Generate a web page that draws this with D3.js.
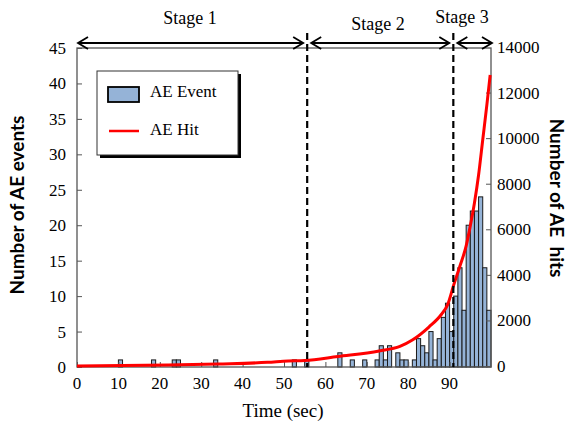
<!DOCTYPE html>
<html><head><meta charset="utf-8">
<script src="https://cdn.jsdelivr.net/npm/d3@7/dist/d3.min.js"></script>
<style>html,body{margin:0;padding:0;background:#fff;}</style>
</head><body>
<svg id="chart" width="571" height="435"></svg>
<script>
// ---- data ----
const seconds = d3.range(0, 100); // 1-second bins, labelled by start time
const aeEvents = [
  0,0,0,0,0,0,0,0,0,0,
  1,0,0,0,0,0,0,0,1,0,
  0,0,0,1,1,0,0,0,0,0,
  0,0,0,1,0,0,0,0,0,0,
  0,0,0,0,0,0,0,0,0,0,
  0,0,1,0,0,1,0,0,0,0,
  0,0,0,2,0,0,1,0,0,1,
  0,0,1,3,1,3,0,2,1,1,
  0,1,4,3,2,5,1,4,7,9,
  5,10,14,8,20,22,22,24,14,8
];
const hitTimes = [0, 22, 34, 46, 51, 55, 63, 73, 78, 81, 85, 88, 89.5, 91, 92.5, 94, 95, 96, 97, 98, 99, 99.8];
const aeHits   = [0, 40, 90, 160, 220, 240, 420, 660, 860, 1140, 1710, 2260, 2680, 3560, 4390, 5270, 6150, 7150, 8380, 9920, 11460, 12770];
const xTicks = [0,10,20,30,40,50,60,70,80,90];
const yLeftTicks = [0,5,10,15,20,25,30,35,40,45];
const yRightTicks = [0,2000,4000,6000,8000,10000,12000,14000];
const stageBounds = [55.6, 90.9];
const stageNames = ["Stage 1","Stage 2","Stage 3"];
const legendNames = ["AE Event","AE Hit"];

// ---- layout ----
const L = 77, R = 491, T = 48, B = 367;
const svg = d3.select("#chart");
const serif = "'Liberation Serif','Times New Roman',serif";

const x = d3.scaleLinear().domain([0,100]).range([L,R]);
const yL = d3.scaleLinear().domain([0,45]).range([B,T]);
const yR = d3.scaleLinear().domain([0,14000]).range([366,47]);

// bars
svg.append("g").selectAll("rect").data(seconds.filter(s => aeEvents[s] > 0)).join("rect")
  .attr("x", s => x(s)).attr("width", s => x(s+1)-x(s))
  .attr("y", s => yL(aeEvents[s])).attr("height", s => yL(0)-yL(aeEvents[s]))
  .attr("fill", "#95b3d7").attr("stroke", "#1a1a1a").attr("stroke-width", 1);

// frame
const axisCol = "#555";
svg.append("rect").attr("x",L).attr("y",T).attr("width",R-L).attr("height",B-T)
  .attr("fill","none").attr("stroke",axisCol).attr("stroke-width",1.3);

// left axis
const gl = svg.append("g").attr("transform",`translate(${L},0)`)
  .call(d3.axisRight(yL).tickValues(yLeftTicks).tickSize(5).tickFormat(""));
gl.select(".domain").remove();
gl.selectAll("line").attr("stroke",axisCol);
svg.append("g").selectAll("text").data(yLeftTicks).join("text")
  .attr("x", 66).attr("y", d => yL(d)).attr("dy","0.35em").attr("text-anchor","end")
  .attr("font-family",serif).attr("font-size",17).text(d => d);

// right axis
const gr = svg.append("g").attr("transform",`translate(${R},0)`)
  .call(d3.axisLeft(yR).tickValues(yRightTicks.filter(v => yR(v) >= T)).tickSize(5).tickFormat(""));
gr.select(".domain").remove();
gr.selectAll("line").attr("stroke",axisCol);
svg.append("g").selectAll("text").data(yRightTicks).join("text")
  .attr("x", 497).attr("y", d => yR(d)).attr("dy","0.35em").attr("text-anchor","start")
  .attr("font-family",serif).attr("font-size",17).text(d => d);

// bottom axis
const gb = svg.append("g").attr("transform",`translate(0,${B})`)
  .call(d3.axisTop(x).tickValues(xTicks).tickSize(5).tickFormat(""));
gb.select(".domain").remove();
gb.selectAll("line").attr("stroke",axisCol);
svg.append("g").selectAll("text").data(xTicks).join("text")
  .attr("x", d => x(d)).attr("y", 383).attr("dy","0.35em").attr("text-anchor","middle")
  .attr("font-family",serif).attr("font-size",17).text(d => d);

// hit line
const line = d3.line().x((d,i) => x(hitTimes[i])).y(d => yR(d)).curve(d3.curveMonotoneX);
svg.append("path").datum(aeHits).attr("d", line).attr("fill","none")
  .attr("stroke","#ff0000").attr("stroke-width",3).attr("stroke-linejoin","round");

// stage dashed lines
svg.append("g").selectAll("line").data(stageBounds).join("line")
  .attr("x1", d => x(d)).attr("x2", d => x(d)).attr("y1", 33).attr("y2", B)
  .attr("stroke","#000").attr("stroke-width",2.2).attr("stroke-dasharray","7,4");

// stage arrows
const arrowY = 43;
const segs = [[x(0)+1, x(stageBounds[0])-4], [x(stageBounds[0])+4, x(stageBounds[1])-4], [x(stageBounds[1])+4, x(100)+1]];
const ga = svg.append("g").attr("stroke","#000").attr("stroke-width",1.8).attr("fill","none");
segs.forEach(([a,b]) => {
  ga.append("line").attr("x1",a).attr("x2",b).attr("y1",arrowY).attr("y2",arrowY);
  ga.append("path").attr("d",`M${a+10},${arrowY-6} L${a},${arrowY} L${a+10},${arrowY+6}`);
  ga.append("path").attr("d",`M${b-10},${arrowY-6} L${b},${arrowY} L${b-10},${arrowY+6}`);
});
const stagePos = [[190,24],[378,30],[462,23]];
svg.append("g").selectAll("text").data(stageNames).join("text")
  .attr("x",(d,i)=>stagePos[i][0]).attr("y",(d,i)=>stagePos[i][1]).attr("text-anchor","middle")
  .attr("font-family",serif).attr("font-size",18).text(d => d);

// legend
const lg = svg.append("g");
lg.append("rect").attr("x",100).attr("y",74).attr("width",141).attr("height",84).attr("fill","#000");
lg.append("rect").attr("x",97).attr("y",71).attr("width",141).attr("height",84)
  .attr("fill","#fff").attr("stroke","#333").attr("stroke-width",1);
lg.append("rect").attr("x",108).attr("y",87).attr("width",31).attr("height",15)
  .attr("fill","#95b3d7").attr("stroke","#000").attr("stroke-width",1.8);
lg.append("line").attr("x1",109).attr("x2",139).attr("y1",131).attr("y2",131)
  .attr("stroke","#ff0000").attr("stroke-width",2.5);
lg.selectAll("text").data(legendNames).join("text")
  .attr("x",150).attr("y",(d,i)=> i===0 ? 97 : 135)
  .attr("font-family",serif).attr("font-size",17).text(d => d);

// axis titles
svg.append("text").attr("transform","translate(24,205) rotate(-90)").attr("text-anchor","middle")
  .attr("font-family","Lato, 'Open Sans', sans-serif").attr("font-weight","bold").attr("font-size",19)
  .text("Number of AE events");
svg.append("text").attr("transform","translate(550,198) rotate(90)").attr("text-anchor","middle")
  .attr("font-family","Lato, 'Open Sans', sans-serif").attr("font-weight","bold").attr("font-size",19)
  .attr("xml:space","preserve").style("white-space","pre")
  .text("Number of AE  hits");
svg.append("text").attr("x",283).attr("y",417).attr("text-anchor","middle")
  .attr("font-family",serif).attr("font-size",19).text("Time (sec)");
</script>
</body></html>
